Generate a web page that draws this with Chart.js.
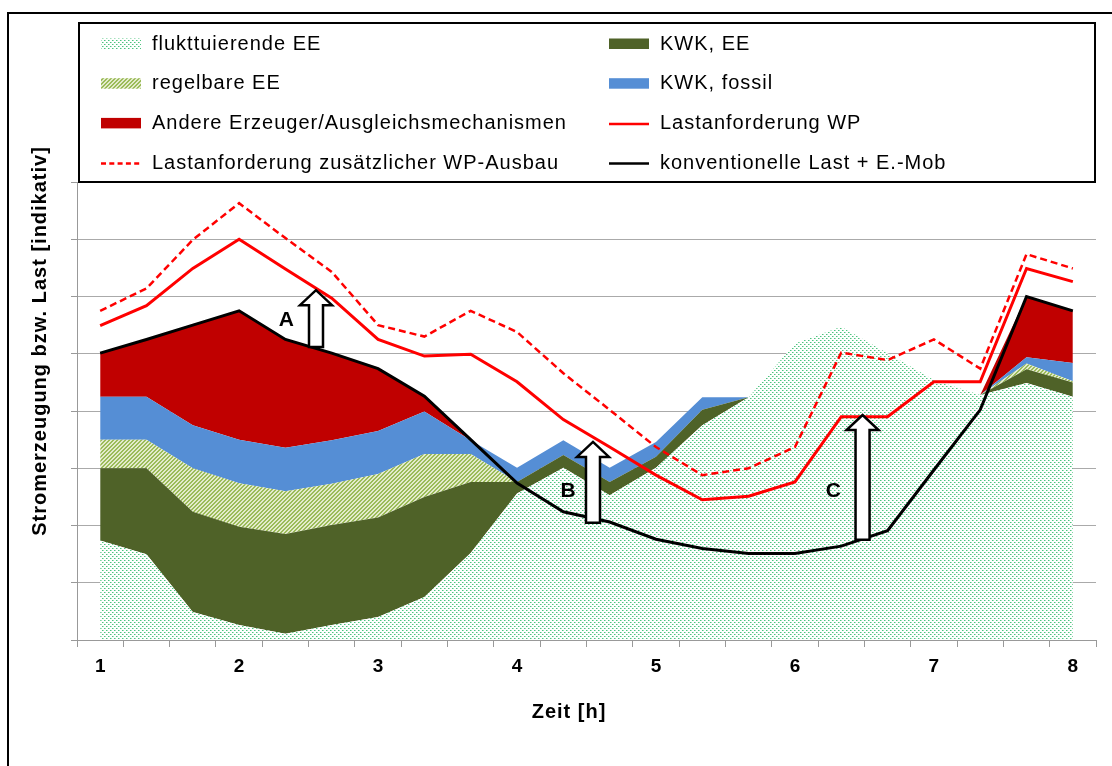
<!DOCTYPE html>
<html lang="de">
<head>
<meta charset="utf-8">
<title>Stromerzeugung bzw. Last</title>
<script src="https://cdn.jsdelivr.net/npm/chart.js@4.4.1/dist/chart.umd.min.js"></script>
<style>
  html, body { margin: 0; padding: 0; background: #fff; }
  #wrap { position: relative; width: 1112px; height: 766px; }
</style>
</head>
<body>
<div id="wrap"><canvas id="lastChart" width="1112" height="766"></canvas></div>
<script>
// x categories: one step = 1/3 h, only full hours get a label
const hours = ['1','','','2','','','3','','','4','','','5','','','6','','','7','','','8'];

// generation (stacked, bottom to top)
const fluktEE   = [1.74,1.50,0.49,0.26,0.11,0.26,0.40,0.75,1.52,2.56,3.01,2.53,3.01,3.75,4.24,5.18,5.47,5.01,4.54,4.28,4.49,4.25];
const kwkEE     = [1.26,1.50,1.75,1.72,1.74,1.75,1.74,1.75,1.24,0.20,0.22,0.23,0.19,0.27,0,0,0,0,0,0,0.24,0.25];
const regelEE   = [0.50,0.50,0.76,0.76,0.75,0.72,0.76,0.75,0.49,0,0,0,0,0,0,0,0,0,0,0,0.10,0.02];
const kwkFossil = [0.75,0.75,0.75,0.76,0.76,0.76,0.75,0.74,0.24,0.25,0.26,0.25,0.26,0.22,0,0,0,0,0,0,0.11,0.32];
const andere    = [0.76,1.00,1.75,2.25,1.89,1.52,1.09,0.27,0,0,0,0,0,0,0,0,0,0,0,0,1.06,0.91];

// load lines
const lastWP     = [5.49,5.84,6.49,7.00,6.48,5.97,5.25,4.96,4.99,4.51,3.85,3.37,2.88,2.45,2.51,2.76,3.90,3.90,4.51,4.51,6.49,6.26];
const lastWPplus = [5.75,6.14,6.99,7.63,7.02,6.43,5.50,5.30,5.75,5.38,4.66,4.02,3.37,2.88,3.00,3.37,5.02,4.89,5.25,4.74,6.74,6.49];
const konvLast   = [5.01,5.25,5.50,5.75,5.25,5.01,4.74,4.26,3.50,2.74,2.24,2.06,1.76,1.60,1.51,1.51,1.64,1.91,2.97,4.02,6.00,5.75];

// arrows A/B/C: x in category index, from/to in y units
const arrowMarks = [
  { label: 'A', at: 4.66,  from: 5.12, to: 6.11, labelAt: 4.02,  labelY: 5.59 },
  { label: 'B', at: 10.64, from: 2.05, to: 3.46, labelAt: 10.10, labelY: 2.60 },
  { label: 'C', at: 16.46, from: 1.75, to: 3.93, labelAt: 15.83, labelY: 2.60 }
];

const yTitle = 'Stromerzeugung bzw. Last [indikativ]';
const xTitle = 'Zeit [h]';

const FONT = "'Liberation Sans', Arial, sans-serif";

function makePattern(size, paint){
  const c = document.createElement('canvas');
  c.width = size; c.height = size;
  const g = c.getContext('2d');
  g.fillStyle = '#fff';
  g.fillRect(0, 0, size, size);
  paint(g, size);
  return g.createPattern(c, 'repeat');
}

// Excel-like fills
const dotFill = makePattern(4, g => {
  g.fillStyle = '#4cc47e'; g.fillRect(0, 0, 1, 1); g.fillRect(2, 2, 1, 1);
  g.fillStyle = '#a4e2bd'; g.fillRect(1, 0, 1, 1); g.fillRect(3, 2, 1, 1);
});
const hatchFill = makePattern(4, (g, n) => {
  for (let x = 0; x < n; x++) for (let y = 0; y < n; y++) {
    g.fillStyle = ((x + y) % 4 < 2) ? '#9bbb59' : '#e3ebcb';
    g.fillRect(x, y, 1, 1);
  }
});

function area(label, data, bg, first){
  return { label, data, backgroundColor: bg, borderColor: 'rgba(0,0,0,0)', borderWidth: 0,
    pointRadius: 0, tension: 0, fill: first ? 'origin' : '-1', stack: 'erzeugung', order: 1 };
}
function line(label, data, color, width, dash, stack){
  return { label, data, borderColor: color, backgroundColor: color, borderWidth: width, borderDash: dash,
    pointRadius: 0, tension: 0, fill: false, stack, order: 0, borderJoinStyle: 'miter' };
}

// legend box, arrows, titles and outer frame
const decoPlugin = {
  id: 'deco',
  afterDraw(chart){
    const ctx = chart.ctx;
    const area = chart.chartArea;
    const xs = chart.scales.x, ys = chart.scales.y;

    // arrows
    arrowMarks.forEach(a => {
      const x = xs.getPixelForValue(a.at);
      const yb = ys.getPixelForValue(a.from);
      const yt = ys.getPixelForValue(a.to);
      const sw = 7, hw = 16, hl = 15;
      ctx.save();
      ctx.beginPath();
      ctx.moveTo(x - sw, yb);
      ctx.lineTo(x - sw, yt + hl);
      ctx.lineTo(x - hw, yt + hl);
      ctx.lineTo(x, yt);
      ctx.lineTo(x + hw, yt + hl);
      ctx.lineTo(x + sw, yt + hl);
      ctx.lineTo(x + sw, yb);
      ctx.closePath();
      ctx.fillStyle = '#fff';
      ctx.fill();
      ctx.lineWidth = 2.5;
      ctx.strokeStyle = '#000';
      ctx.lineJoin = 'miter';
      ctx.stroke();
      ctx.fillStyle = '#000';
      ctx.font = 'bold 21px ' + FONT;
      ctx.textAlign = 'center';
      ctx.textBaseline = 'middle';
      ctx.fillText(a.label, xs.getPixelForValue(a.labelAt), ys.getPixelForValue(a.labelY));
      ctx.restore();
    });

    // legend
    const bx = area.left + 2, by = 23, bw = area.right - area.left - 3, bh = area.top - by;
    ctx.save();
    ctx.fillStyle = '#fff';
    ctx.fillRect(bx, by, bw, bh);
    ctx.lineWidth = 2;
    ctx.strokeStyle = '#000';
    ctx.strokeRect(bx, by, bw, bh);
    ctx.font = '20px ' + FONT;
    if ('letterSpacing' in ctx) ctx.letterSpacing = '1px';
    ctx.textAlign = 'left';
    ctx.textBaseline = 'alphabetic';
    const colX = [bx + 22, bx + bw / 2 + 22];
    chart.data.datasets.forEach((ds, i) => {
      const sx = colX[i % 2];
      const base = by + 26.5 + Math.floor(i / 2) * 39.7;
      if (ds.fill) {
        ctx.fillStyle = ds.backgroundColor;
        ctx.fillRect(sx, base - 11, 40, 10.5);
      } else {
        ctx.beginPath();
        ctx.setLineDash(ds.borderDash && ds.borderDash.length ? [5, 3.3] : []);
        ctx.lineWidth = 2.5;
        ctx.strokeStyle = ds.borderColor;
        ctx.moveTo(sx, base - 5);
        ctx.lineTo(sx + 40, base - 5);
        ctx.stroke();
        ctx.setLineDash([]);
      }
      ctx.fillStyle = '#000';
      ctx.fillText(ds.label, sx + 51, base);
    });
    ctx.restore();

    // axis titles
    ctx.save();
    ctx.fillStyle = '#000';
    ctx.font = 'bold 20px ' + FONT;
    if ('letterSpacing' in ctx) ctx.letterSpacing = '1px';
    ctx.textAlign = 'center';
    ctx.textBaseline = 'middle';
    ctx.fillText(xTitle, 569, 712);
    ctx.translate(40, 341);
    ctx.rotate(-Math.PI / 2);
    ctx.fillText(yTitle, 0, 0);
    ctx.restore();

    // chart area frame (left and top edge visible)
    ctx.save();
    ctx.beginPath();
    ctx.lineWidth = 2;
    ctx.strokeStyle = '#000';
    ctx.moveTo(8, chart.height + 2);
    ctx.lineTo(8, 13);
    ctx.lineTo(chart.width + 2, 13);
    ctx.stroke();
    ctx.restore();
  }
};

new Chart(document.getElementById('lastChart'), {
  type: 'line',
  data: {
    labels: hours,
    datasets: [
      area('flukttuierende EE', fluktEE, dotFill, true),
      area('KWK, EE', kwkEE, '#4f6228'),
      area('regelbare EE', regelEE, hatchFill),
      area('KWK, fossil', kwkFossil, '#558ed5'),
      area('Andere Erzeuger/Ausgleichsmechanismen', andere, '#c00000'),
      line('Lastanforderung WP', lastWP, '#ff0000', 3, [], 'wp'),
      line('Lastanforderung zusätzlicher WP-Ausbau', lastWPplus, '#ff0000', 2.5, [7, 4], 'wp2'),
      line('konventionelle Last + E.-Mob', konvLast, '#000000', 3, [], 'konv')
    ]
  },
  options: {
    responsive: false,
    animation: false,
    layout: { padding: { top: 182, right: 16, bottom: 0, left: 0 } },
    plugins: { legend: { display: false }, tooltip: { enabled: false } },
    scales: {
      x: {
        offset: true,
        grid: { offset: true, drawOnChartArea: false, drawTicks: true, tickLength: 7, color: '#999' },
        border: { color: '#999', width: 1 },
        ticks: { autoSkip: false, maxRotation: 0, padding: 8, color: '#000', font: { family: FONT, size: 19, weight: 'bold' } },
        afterFit(s){ s.height = 126; }
      },
      y: {
        stacked: true,
        min: 0, max: 8,
        ticks: { stepSize: 1, display: false },
        grid: { color: '#aaa', tickLength: 6, tickColor: '#999' },
        border: { color: '#999', width: 1 },
        afterFit(s){ s.width = 77; }
      }
    }
  },
  plugins: [decoPlugin]
});
</script>
</body>
</html>
